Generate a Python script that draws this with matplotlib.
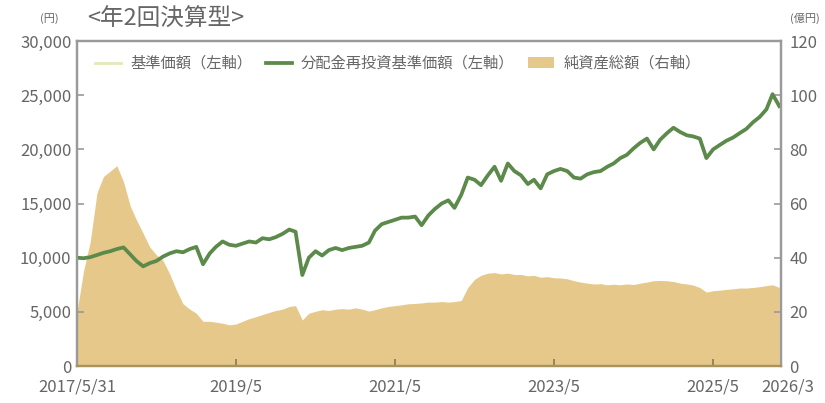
import numpy as np
import pandas as pd
import matplotlib
matplotlib.use('Agg')
import matplotlib.pyplot as plt
import matplotlib.transforms as mtrans
from matplotlib.ticker import FuncFormatter, MultipleLocator

plt.rcParams['font.family'] = ['Noto Sans CJK JP', 'DejaVu Sans']

# month-end dates 2017/5/31 .. 2026/3/31
dates = pd.date_range('2017-05-31', '2026-03-31', freq='ME')

# 分配金再投資基準価額 (円), monthly reading
nav_reinv = [
    10000, 9950, 10050, 10250, 10450, 10600, 10800, 10950, 10300, 9700,
    9200, 9500, 9700, 10100, 10400, 10600, 10500, 10800, 11000, 9400,
    10400, 11000, 11500, 11200, 11100, 11300, 11500, 11400, 11800, 11700,
    11900, 12200, 12600, 12400, 8400, 10000, 10600, 10200, 10700, 10900,
    10700, 10900, 11000, 11100, 11400, 12500, 13100, 13300, 13500, 13700,
    13700, 13800, 13000, 13900, 14500, 15000, 15300, 14600, 15800, 17400,
    17200, 16700, 17600, 18400, 17100, 18700, 18000, 17600, 16800, 17200,
    16400, 17700, 18000, 18200, 18000, 17400, 17300, 17700, 17900, 18000,
    18400, 18700, 19200, 19500, 20100, 20600, 21000, 20000, 20900, 21500,
    22000, 21600, 21300, 21200, 21000, 19200, 20000, 20400, 20800, 21100,
    21500, 21900, 22500, 23000, 23700, 25100, 24000,
]

# 基準価額 (円) - drawn under the reinvested line
nav = list(nav_reinv)

# 純資産総額 (億円)
net_assets = [
    20, 35, 46, 64, 70, 72, 74, 68, 59, 54,
    49, 44, 41, 39, 34, 28, 23, 21, 19.5, 16.5,
    16.5, 16.2, 15.8, 15.2, 15.5, 16.5, 17.5, 18.2, 19, 19.8,
    20.5, 21, 22, 22.3, 17, 19.5, 20.2, 20.8, 20.5, 21,
    21.2, 21, 21.5, 21, 20.3, 20.8, 21.5, 22, 22.3, 22.6,
    23, 23.1, 23.3, 23.6, 23.6, 23.8, 23.6, 23.8, 24.2, 29,
    32, 33.5, 34.3, 34.5, 34, 34.3, 33.8, 33.8, 33.3, 33.5,
    32.8, 33, 32.6, 32.5, 32.2, 31.5, 31, 30.6, 30.3, 30.4,
    30, 30.2, 30, 30.3, 30.1, 30.6, 31, 31.5, 31.6, 31.5,
    31.2, 30.6, 30.3, 29.9, 29, 27.3, 27.8, 28, 28.3, 28.5,
    28.8, 28.8, 29, 29.3, 29.7, 30, 29,
]

tick_dates = ['2017-05-31', '2019-05-31', '2021-05-31', '2023-05-31', '2025-05-31', '2026-03-31']
tick_labels = ['2017/5/31', '2019/5', '2021/5', '2023/5', '2025/5', '2026/3']

grey = '#666666'
spine_grey = '#9a9a9a'
tan = '#e6c98a'
green = '#5b8a4b'
pale = '#e4e9b8'

fig = plt.figure(figsize=(8.25, 4.03), dpi=100)
ax = fig.add_axes([0.0933, 0.0918, 0.8534, 0.8062])
ax2 = ax.twinx()

ax2.fill_between(dates, 0, net_assets, color=tan, lw=0, label='純資産総額（右軸）')
ax.plot(dates, nav, color=pale, lw=2.0, label='基準価額（左軸）')
ax.plot(dates, nav_reinv, color=green, lw=2.7, label='分配金再投資基準価額（左軸）')

ax.set_zorder(ax2.get_zorder() + 1)
ax.patch.set_visible(False)

ax.set_xlim(pd.Timestamp('2017-05-31'), pd.Timestamp('2026-04-08'))
ax.set_ylim(0, 30000)
ax2.set_ylim(0, 120)
ax.yaxis.set_major_locator(MultipleLocator(5000))
ax.yaxis.set_major_formatter(FuncFormatter(lambda v, p: f'{int(v):,}'))
ax2.yaxis.set_major_locator(MultipleLocator(20))

ax.set_xticks(pd.to_datetime(tick_dates))
ax.set_xticklabels(tick_labels)

for a in (ax, ax2):
    a.tick_params(direction='in', length=5, width=1.2, color=spine_grey,
                  labelcolor=grey, labelsize=12)
    for s in a.spines.values():
        s.set_color(spine_grey)
        s.set_linewidth(1.6)
    a.spines['bottom'].set_color('#a8925e')
ax.tick_params(axis='x', pad=9, color='#8a7a50')
ax.tick_params(axis='y', pad=4)
ax2.tick_params(axis='y', pad=6)

# first and last date labels have no tick mark; last label sits a bit right
xt = ax.xaxis.get_major_ticks()
xt[0].tick1line.set_visible(False)
xt[-1].tick1line.set_visible(False)
lbl = ax.get_xticklabels()[-1]
lbl.set_transform(lbl.get_transform() + mtrans.ScaledTranslation(0.08, 0, fig.dpi_scale_trans))

# nudge the two zero labels up a little so they clear the date labels
for a in (ax, ax2):
    zl = a.get_yticklabels()[0]
    zl.set_transform(zl.get_transform() + mtrans.ScaledTranslation(0, 0.03, fig.dpi_scale_trans))

fig.text(0.105, 0.953, '<年2回決算型>', fontsize=17, color=grey, va='center')
fig.text(0.048, 0.955, '(円)', fontsize=8, color=grey, va='center')
fig.text(0.957, 0.955, '(億円)', fontsize=8, color=grey, va='center')

h1, l1 = ax.get_legend_handles_labels()
h2, l2 = ax2.get_legend_handles_labels()
leg = ax.legend(h1 + h2, l1 + l2, loc='upper left', bbox_to_anchor=(0.006, 1.0),
                ncol=3, frameon=False, fontsize=11, handlelength=1.7,
                handletextpad=0.6, columnspacing=0.9, labelcolor=grey)

fig.savefig('out.png', dpi=100)
